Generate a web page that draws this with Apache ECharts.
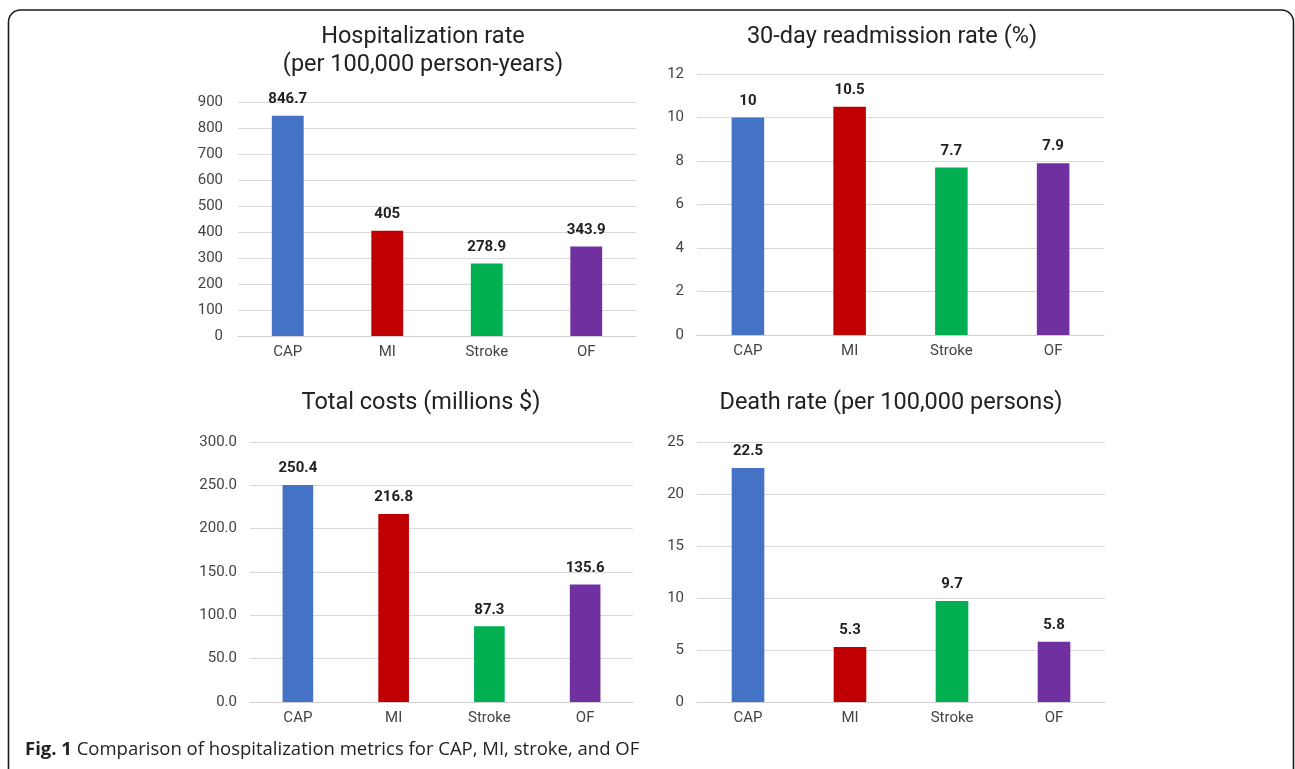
<!DOCTYPE html>
<html>
<head>
<meta charset="utf-8">
<script src="https://cdn.jsdelivr.net/npm/echarts@6/dist/echarts.min.js"></script>
<style>
  html, body { margin: 0; padding: 0; background: #fff; }
  #chart { width: 1295px; height: 769px; }
</style>
</head>
<body>
<div id="chart"></div>
<script>
// Categories shared by all four panels
const categories = ['CAP', 'MI', 'Stroke', 'OF'];
const barColors = ['#4472C4', '#C00000', '#00B050', '#7030A0'];

// Panel values
const hospitalizationRate = [846.7, 405, 278.9, 343.9];
const readmissionRate = [10, 10.5, 7.7, 7.9];
const totalCosts = [250.4, 216.8, 87.3, 135.6];
const deathRate = [22.5, 5.3, 9.7, 5.8];

// Value-axis ranges
const hospMax = 900, hospStep = 100;
const readmMax = 12, readmStep = 2;
const costMax = 300, costStep = 50;
const deathMax = 25, deathStep = 5;

const panelTitles = [
  ['Hospitalization rate', '(per 100,000 person-years)'],
  ['30-day readmission rate (%)'],
  ['Total costs (millions $)'],
  ['Death rate (per 100,000 persons)']
];

const captionBold = 'Fig. 1';
const captionText = ' Comparison of hospitalization metrics for CAP, MI, stroke, and OF';

const FONT = 'Roboto, Arial, sans-serif';

const grids = [
  { left: 238, top: 102, width: 398, height: 234 },
  { left: 697, top: 74, width: 407, height: 261 },
  { left: 250, top: 442, width: 383, height: 260 },
  { left: 697, top: 442, width: 408, height: 260 }
];

const yCfg = [
  { max: hospMax, step: hospStep, fmt: v => String(v) },
  { max: readmMax, step: readmStep, fmt: v => String(v) },
  { max: costMax, step: costStep, fmt: v => v.toFixed(1) },
  { max: deathMax, step: deathStep, fmt: v => String(v) }
];
const seriesData = [hospitalizationRate, readmissionRate, totalCosts, deathRate];

const xAxes = grids.map((g, i) => ({
  type: 'category',
  gridIndex: i,
  data: categories,
  axisLine: { show: true, lineStyle: { color: '#cfcfcf', width: 1 } },
  axisTick: { show: false },
  axisLabel: { color: '#444', fontFamily: FONT, fontSize: 15, margin: 9 }
}));

const yAxes = grids.map((g, i) => ({
  type: 'value',
  gridIndex: i,
  min: 0,
  max: yCfg[i].max,
  interval: yCfg[i].step,
  axisLine: { show: false },
  axisTick: { show: false },
  splitLine: { lineStyle: { color: '#d9d9d9', width: 1 } },
  axisLabel: {
    color: '#444', fontFamily: FONT, fontSize: 15,
    margin: i === 0 ? 15 : 13,
    formatter: yCfg[i].fmt
  }
}));

const series = seriesData.map((vals, i) => ({
  type: 'bar',
  xAxisIndex: i,
  yAxisIndex: i,
  barWidth: '32%',
  data: vals.map((v, j) => ({ value: v, itemStyle: { color: barColors[j] } })),
  label: {
    show: true,
    position: 'top',
    distance: 9,
    color: '#222',
    fontFamily: FONT,
    fontSize: 15,
    fontWeight: 'bold',
    formatter: p => String(p.value)
  }
}));

// Panel headings, centered over each plot
const titleCenters = [
  { x: 423, ys: [37, 65] },
  { x: 892, ys: [37] },
  { x: 421, ys: [403] },
  { x: 891, ys: [403] }
];
const headingGraphics = [];
panelTitles.forEach((lines, i) => {
  lines.forEach((line, k) => {
    headingGraphics.push({
      type: 'text',
      x: titleCenters[i].x,
      y: titleCenters[i].ys[k],
      style: {
        text: line,
        fill: '#222',
        font: '23.5px ' + FONT,
        textAlign: 'center',
        textVerticalAlign: 'middle'
      }
    });
  });
});

const chart = echarts.init(document.getElementById('chart'), null, { renderer: 'canvas' });
chart.setOption({
  backgroundColor: '#fff',
  animation: false,
  grid: grids.map(g => Object.assign({ containLabel: false }, g)),
  xAxis: xAxes,
  yAxis: yAxes,
  series: series,
  graphic: [
    // Figure frame (open at the bottom edge of the page)
    {
      type: 'rect',
      shape: { x: 8.5, y: 10, width: 1285, height: 820, r: 12 },
      style: { fill: 'none', stroke: '#1a1a1a', lineWidth: 1.6 },
      silent: true
    },
    ...headingGraphics,
    {
      type: 'text',
      x: 25,
      y: 750,
      style: {
        text: '{b|' + captionBold + '}{n|' + captionText + '}',
        textVerticalAlign: 'middle',
        rich: {
          b: { fontFamily: '"Open Sans", sans-serif', fontWeight: 'bold', fontSize: 18.5, fill: '#222', color: '#222' },
          n: { fontFamily: '"Open Sans", sans-serif', fontSize: 18.5, fill: '#222', color: '#222' }
        }
      }
    }
  ]
});
</script>
</body>
</html>
